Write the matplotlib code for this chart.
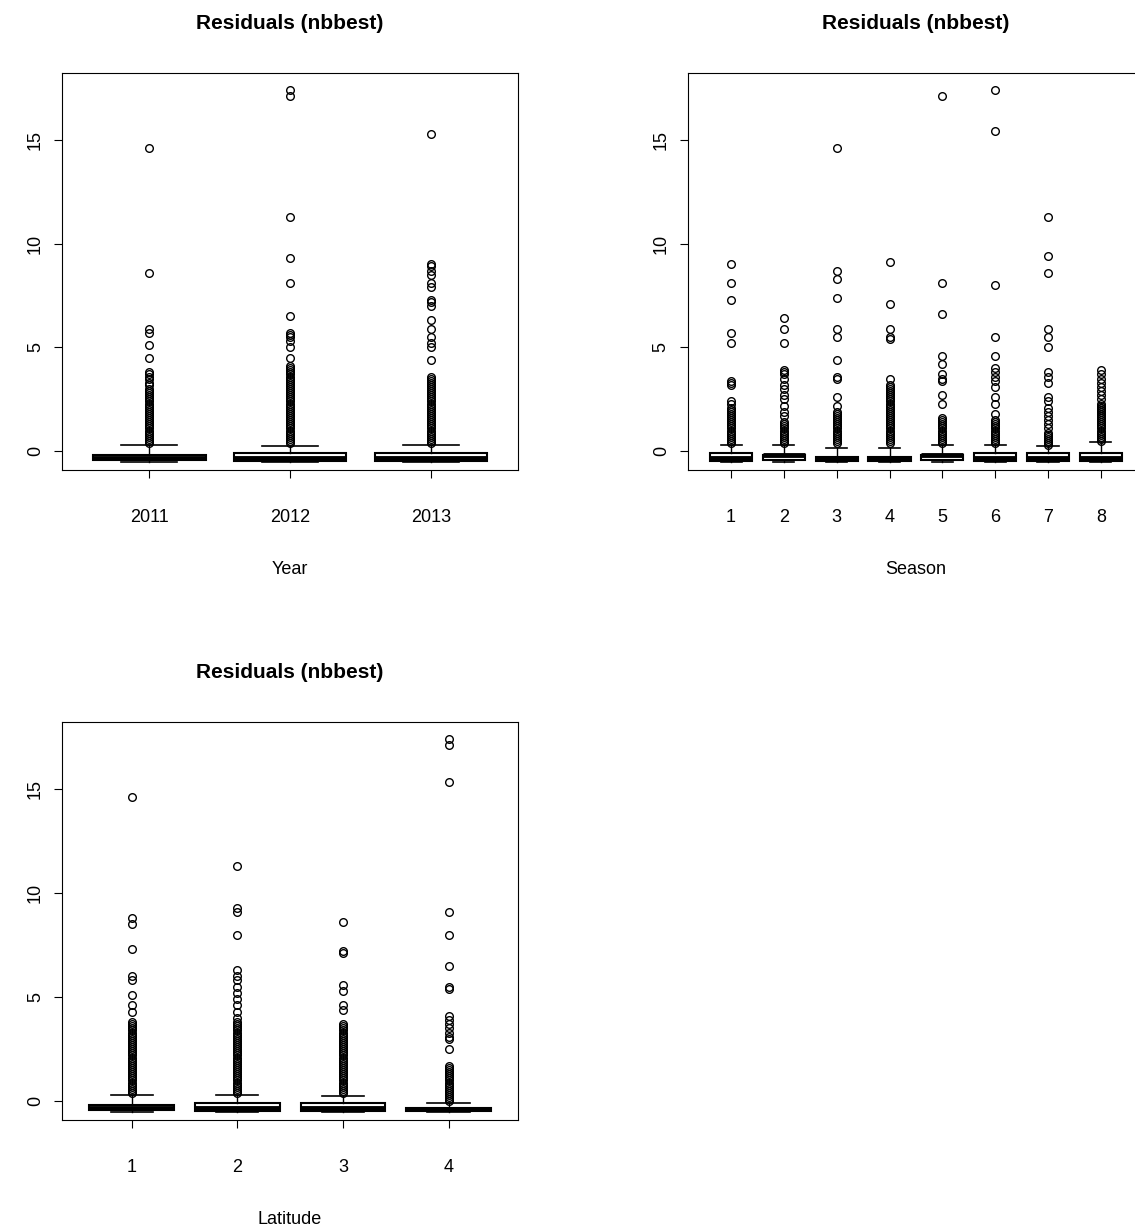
import matplotlib.pyplot as plt

plt.rcParams['font.family'] = ['Liberation Sans', 'DejaVu Sans']

# dense parts of outlier columns typed out
dense_a = [0.4, 0.5, 0.6, 0.7, 0.8, 0.9, 1.0, 1.1, 1.2, 1.3, 1.4, 1.5, 1.6, 1.7, 1.8, 1.9,
           2.0, 2.1, 2.2, 2.3, 2.4, 2.5, 2.6, 2.7, 2.8, 2.9]
dense_b = [3.0, 3.1, 3.2, 3.3, 3.4, 3.5, 3.6, 3.7, 3.8, 3.9, 4.0]

year_labels = ['2011', '2012', '2013']
year_stats = [
    # (low whisker, q1, median, q3, high whisker)
    (-0.5, -0.4, -0.3, -0.2, 0.3),
    (-0.5, -0.45, -0.3, -0.1, 0.25),
    (-0.5, -0.45, -0.3, -0.1, 0.3),
]
year_out = [
    [14.6, 8.6, 5.9, 5.7, 5.1, 4.5, 3.8, 3.7, 3.6, 3.5, 3.3, 3.2, 3.0] + dense_a,
    [17.4, 17.1, 11.3, 9.3, 8.1, 6.5, 5.7, 5.6, 5.5, 5.3, 5.0, 4.5, 4.1] + dense_a + dense_b,
    [15.3, 9.0, 8.9, 8.7, 8.5, 8.1, 7.9, 7.3, 7.2, 7.0, 6.3, 5.9, 5.5, 5.2, 5.0, 4.4,
     3.6, 3.5, 3.4, 3.3, 3.2, 3.1, 3.0] + dense_a,
]

season_labels = ['1', '2', '3', '4', '5', '6', '7', '8']
season_stats = [
    (-0.5, -0.45, -0.3, -0.1, 0.3),
    (-0.5, -0.4, -0.2, -0.2, 0.3),
    (-0.5, -0.45, -0.35, -0.25, 0.15),
    (-0.5, -0.45, -0.35, -0.25, 0.15),
    (-0.5, -0.4, -0.2, -0.2, 0.3),
    (-0.5, -0.45, -0.3, -0.1, 0.3),
    (-0.5, -0.45, -0.3, -0.1, 0.25),
    (-0.5, -0.45, -0.3, -0.1, 0.45),
]
season_out = [
    [9.0, 8.1, 7.3, 5.7, 5.2, 3.4, 3.3, 3.2, 2.4, 2.3, 2.1] + dense_a[:17],
    [6.4, 5.9, 5.2, 3.9, 3.8, 3.7, 3.5, 3.2, 3.0, 2.7, 2.5, 2.2, 1.9, 1.7] + dense_a[:11],
    [14.6, 8.7, 8.3, 7.4, 5.9, 5.5, 4.4, 3.6, 3.5, 2.6, 2.2] + dense_a[:16],
    [9.1, 7.1, 5.9, 5.5, 5.4, 3.5, 3.2, 3.1, 3.0] + dense_a,
    [17.1, 8.1, 6.6, 4.6, 4.2, 3.7, 3.5, 3.4, 2.7, 2.3] + dense_a[:13],
    [17.4, 15.4, 8.0, 5.5, 4.6, 4.0, 3.8, 3.6, 3.4, 3.1, 2.6, 2.3, 1.8] + dense_a[:12],
    [11.3, 9.4, 8.6, 5.9, 5.5, 5.0, 3.8, 3.6, 3.3, 2.6, 2.4, 2.1, 1.9, 1.7, 1.5, 1.3, 1.1,
     0.9, 0.8, 0.7, 0.6, 0.5, 0.4, 0.3],
    [3.9, 3.7, 3.5, 3.3, 3.1, 2.9, 2.7, 2.5, 2.3, 2.1, 2.0] + dense_a[1:19],
]

lat_labels = ['1', '2', '3', '4']
lat_stats = [
    (-0.5, -0.4, -0.3, -0.2, 0.3),
    (-0.5, -0.45, -0.3, -0.1, 0.3),
    (-0.5, -0.45, -0.3, -0.1, 0.25),
    (-0.5, -0.45, -0.35, -0.3, -0.1),
]
lat_out = [
    [14.6, 8.8, 8.5, 7.3, 6.0, 5.8, 5.1, 4.6, 4.3, 3.8] + dense_a + dense_b[:8],
    [11.3, 9.3, 9.1, 8.0, 6.3, 6.0, 5.8, 5.5, 5.2, 4.9, 4.6, 4.3, 4.0] + dense_a + dense_b[:9],
    [8.6, 7.2, 7.1, 5.6, 5.3, 4.6, 4.4] + dense_a + dense_b[:8],
    [17.4, 17.1, 15.3, 9.1, 8.0, 6.5, 5.5, 5.4, 4.1, 3.9, 3.7, 3.5, 3.3, 3.1, 3.0, 2.5,
     1.7, 1.6, 1.5, 1.4, 1.3, 1.2, 1.1, 1.0, 0.9, 0.8, 0.7, 0.6, 0.5, 0.4, 0.3, 0.2, 0.1, 0.0],
]


def draw(ax, labels, stats, outs, xlabel):
    n = len(labels)
    bx = []
    for s, o in zip(stats, outs):
        bx.append(dict(whislo=s[0], q1=s[1], med=s[2], q3=s[3], whishi=s[4], fliers=o))
    ax.bxp(bx, positions=range(1, n + 1), widths=0.8, patch_artist=True,
           boxprops=dict(facecolor='white', edgecolor='black', linewidth=1.5),
           medianprops=dict(color='black', linewidth=3.5),
           whiskerprops=dict(color='black', linewidth=1, linestyle='-'),
           capprops=dict(color='black', linewidth=1.2), capwidths=0.4,
           flierprops=dict(marker='o', markerfacecolor='none', markeredgecolor='black',
                           markersize=5.5, markeredgewidth=1))
    ax.set_xlim(0.5 - 0.04 * n, n + 0.5 + 0.04 * n)
    ax.set_ylim(-0.9, 18.2)
    ax.set_xticks(range(1, n + 1))
    ax.set_xticklabels(labels)
    ax.set_yticks([0, 5, 10, 15])
    ax.set_yticklabels(['0', '5', '10', '15'], rotation=90, va='center')
    ax.tick_params(labelsize=13, length=6)
    ax.tick_params(axis='x', pad=22)
    ax.tick_params(axis='y', pad=7)
    ax.set_title('Residuals (nbbest)', fontsize=15, fontweight='bold', pad=32)
    ax.set_xlabel(xlabel, fontsize=13, labelpad=25)


fig = plt.figure(figsize=(11.35, 12.32), dpi=100)
ax1 = fig.add_axes([0.0546, 0.6185, 0.402, 0.322])
ax2 = fig.add_axes([0.606, 0.6185, 0.402, 0.322])
ax3 = fig.add_axes([0.0546, 0.0909, 0.402, 0.323])
draw(ax1, year_labels, year_stats, year_out, 'Year')
draw(ax2, season_labels, season_stats, season_out, 'Season')
draw(ax3, lat_labels, lat_stats, lat_out, 'Latitude')
fig.savefig('out.png', dpi=100)
